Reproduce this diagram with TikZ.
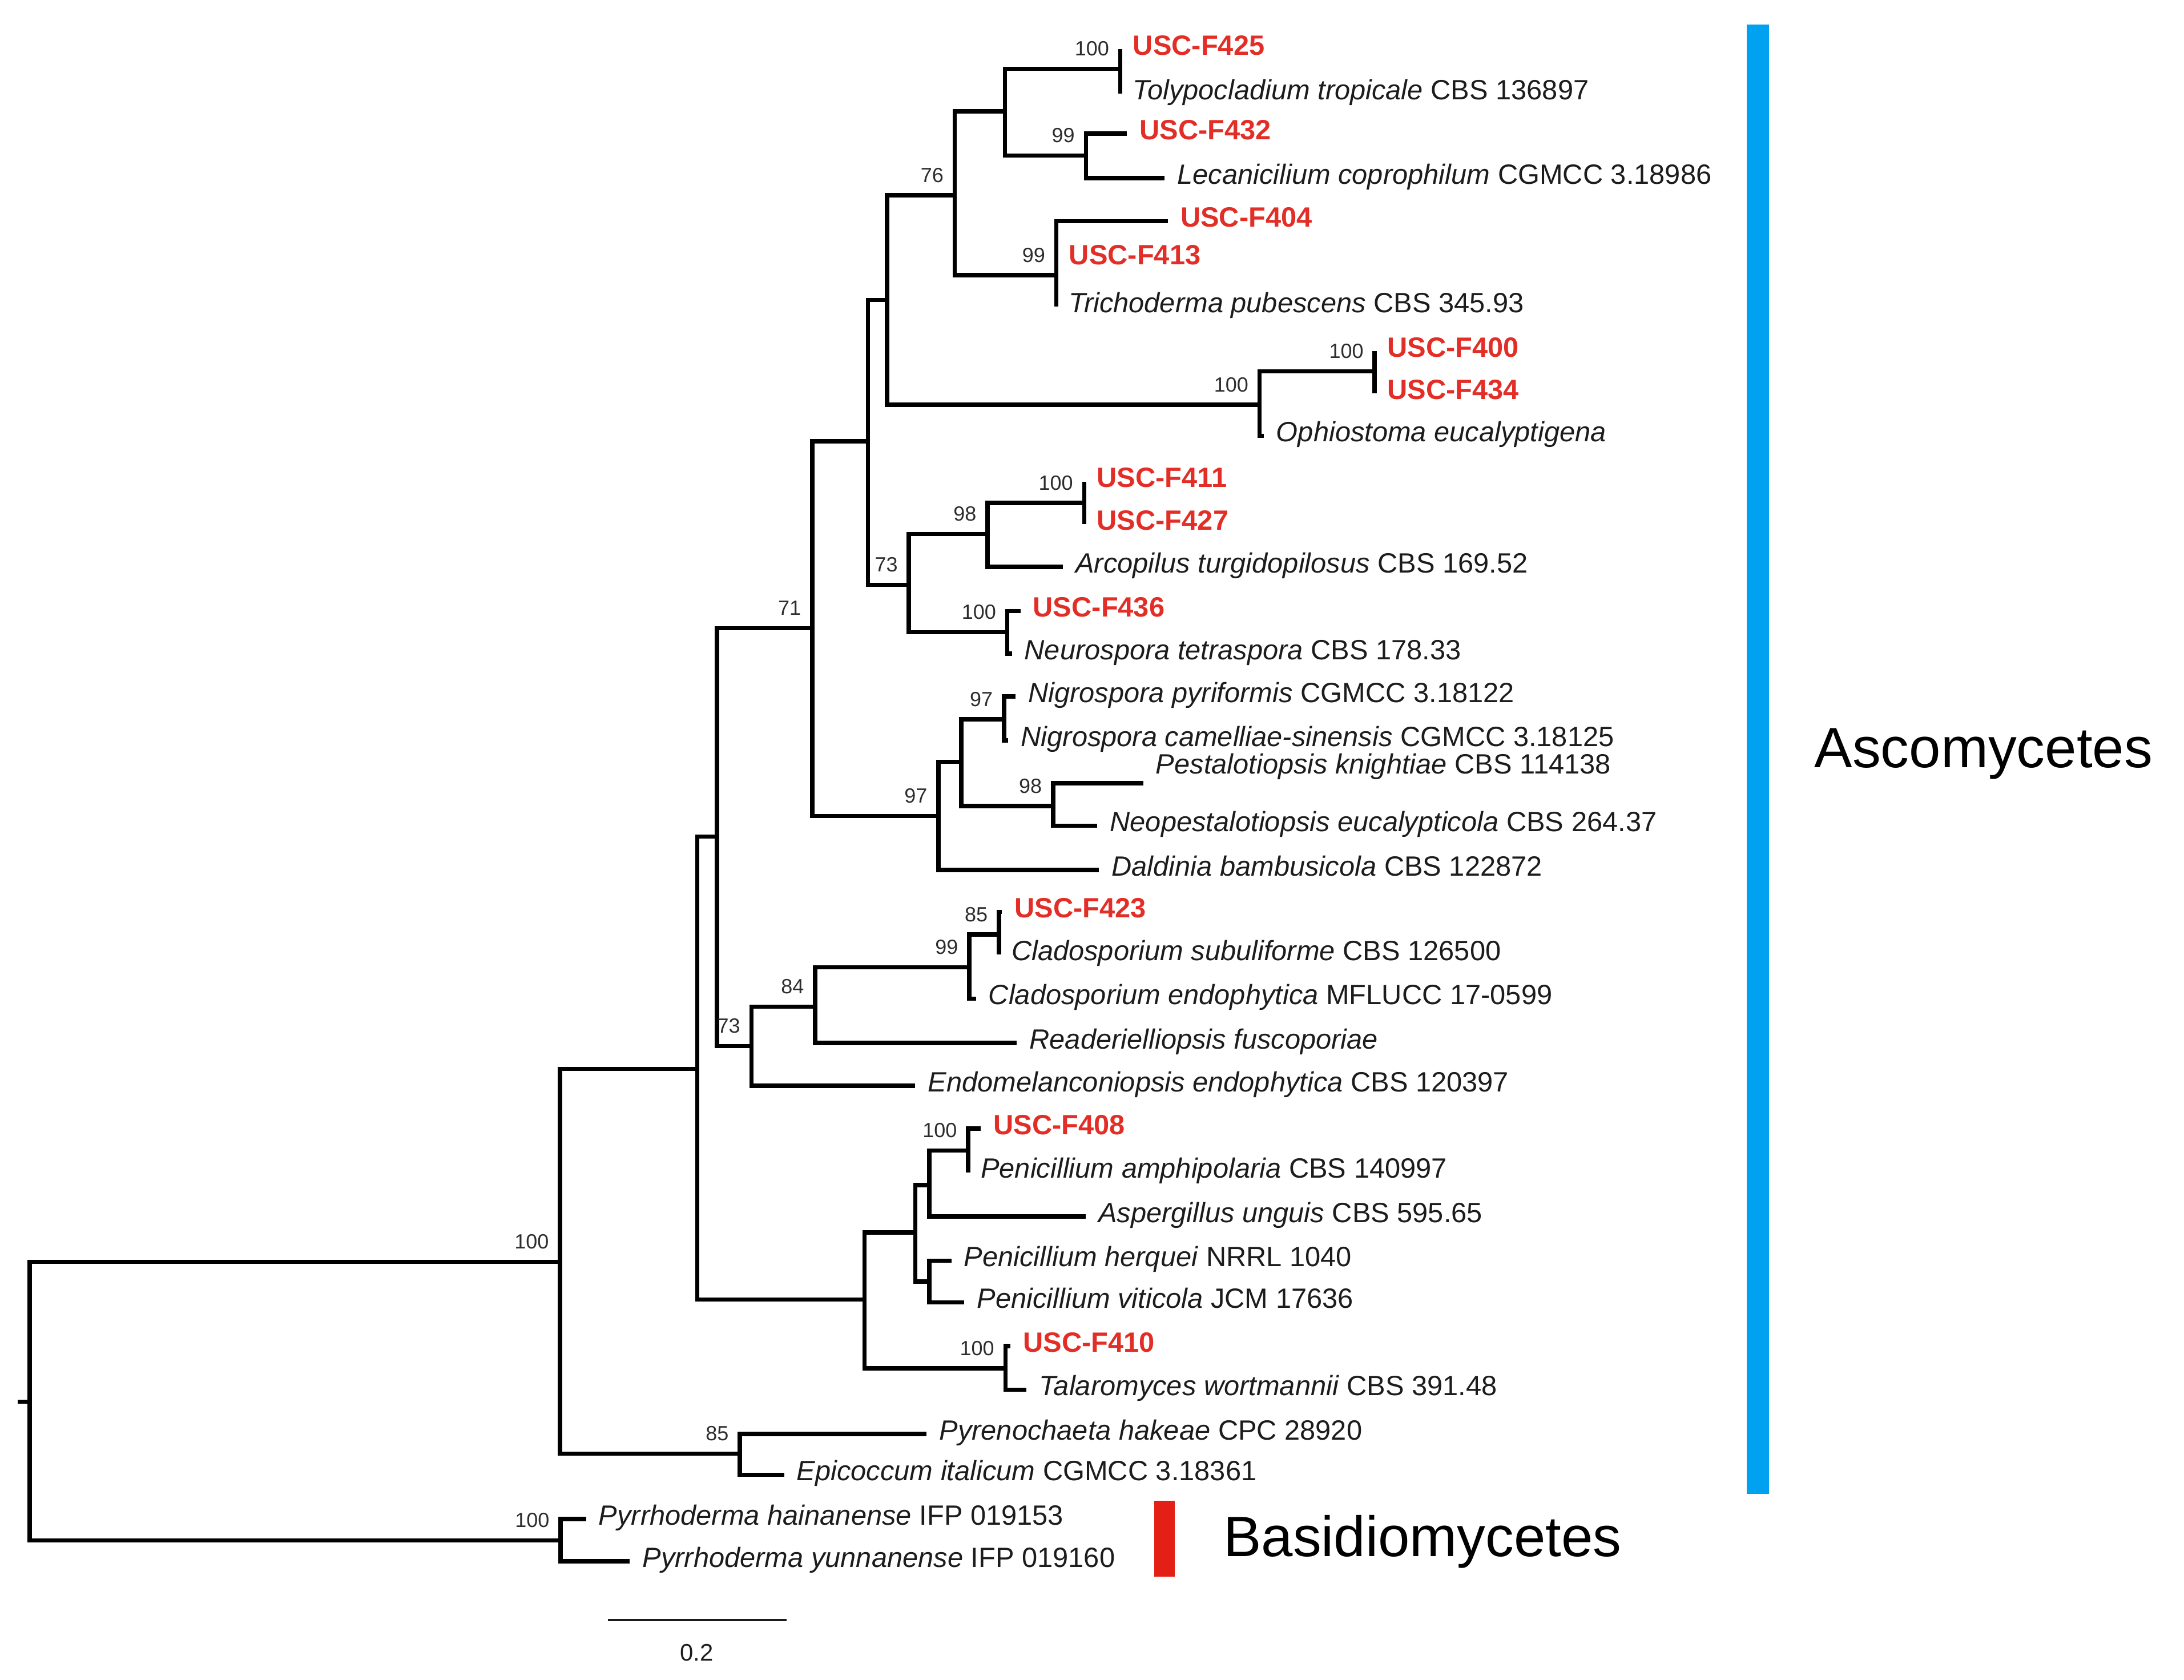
\documentclass[tikz,border=0pt]{standalone}
\usepackage{fontspec}
\setmainfont{Liberation Sans}
\definecolor{uscred}{RGB}{226,46,38}
\definecolor{taxblack}{RGB}{28,28,28}
\definecolor{bsgray}{RGB}{45,45,45}
\definecolor{ascblue}{RGB}{0,161,241}
\definecolor{basred}{RGB}{228,32,22}
\newcommand{\taxfont}{\fontsize{9.9}{12}\selectfont}
\newcommand{\bsfont}{\fontsize{7.3}{9}\selectfont}
\newcommand{\groupfont}{\fontsize{20.2}{24}\selectfont}

\begin{document}
\begin{tikzpicture}[x=0.5pt,y=-0.5pt,
  every edge/.style={draw,line width=1.55pt,to path={|- (\tikztotarget) \tikztonodes}},
  taxon/.style={anchor=base west,inner sep=0pt,xshift=4.3pt,yshift=-2.1pt,font=\taxfont,text=taxblack},
  isolate/.style={taxon,font=\taxfont\bfseries,text=uscred},
  support/.style={anchor=base east,inner sep=0pt,xshift=-3.8pt,yshift=4.6pt,font=\bsfont,text=bsgray},
  group/.style={anchor=base west,inner sep=0pt,font=\groupfont}]

  \useasboundingbox (0,0) rectangle (1552,1193.8);

  % internal nodes: x of the split, y of the branch leading to it
  \coordinate (stub) at (12.5,996);
  \coordinate (root) at (21.2,996);
  \coordinate (nAsc) at (398,896.7);
  \coordinate (nBas) at (398.4,1094.6);
  \coordinate (nB) at (495.5,759.6);
  \coordinate (nA) at (509.5,594.5);
  \coordinate (n71) at (577.2,446.4);
  \coordinate (nM) at (616.8,313.5);
  \coordinate (nL) at (630.3,213.1);
  \coordinate (n76) at (678.5,138.6);
  \coordinate (nK) at (714.2,79.2);
  \coordinate (n100a) at (796.1,48.9);
  \coordinate (n99a) at (771.7,110.6);
  \coordinate (n99b) at (750.7,195.6);
  \coordinate (n100b) at (895.1,287.6);
  \coordinate (n100c) at (976.9,263.9);
  \coordinate (n73a) at (645.9,415.6);
  \coordinate (n98a) at (701.8,379.5);
  \coordinate (n100d) at (770.5,357.4);
  \coordinate (n100e) at (715.8,449.3);
  \coordinate (n97b) at (666.9,579.8);
  \coordinate (nN) at (683.2,541.3);
  \coordinate (n97a) at (713.5,511);
  \coordinate (n98b) at (748.4,572.8);
  \coordinate (nC) at (534,743.3);
  \coordinate (n84) at (579.3,715.3);
  \coordinate (n99c) at (688.8,687.4);
  \coordinate (n85a) at (709.8,664.1);
  \coordinate (nD) at (614.3,923.5);
  \coordinate (nE) at (650.4,875.7);
  \coordinate (nF) at (660.5,842);
  \coordinate (nG) at (688,817.5);
  \coordinate (nH) at (660.5,910.7);
  \coordinate (nI) at (714.5,972.4);
  \coordinate (nJ) at (525.8,1033);

  % tips
  \coordinate (tF425) at (796.1,34.9);
  \coordinate (tToly) at (796.1,66.4);
  \coordinate (tF432) at (800.8,95);
  \coordinate (tLeca) at (827.6,126.5);
  \coordinate (tF404) at (829.9,157.2);
  \coordinate (tF413) at (750.7,184);
  \coordinate (tTrich) at (750.7,217.7);
  \coordinate (tF400) at (976.9,249.4);
  \coordinate (tF434) at (976.9,279.4);
  \coordinate (tOphio) at (898,309.7);
  \coordinate (tF411) at (770.5,342.2);
  \coordinate (tF427) at (770.5,372.5);
  \coordinate (tArco) at (755.4,402.8);
  \coordinate (tF436) at (725.1,434.2);
  \coordinate (tNeuro) at (719,464.5);
  \coordinate (tNpyr) at (721.6,494.8);
  \coordinate (tNcam) at (716.5,526.2);
  \coordinate (tPest) at (812.4,556.5);
  \coordinate (tNeop) at (779.8,586.7);
  \coordinate (tDald) at (781,618.2);
  \coordinate (tF423) at (712,648);
  \coordinate (tCsub) at (709.8,678.2);
  \coordinate (tCend) at (693.5,709.7);
  \coordinate (tRead) at (722.6,741.1);
  \coordinate (tEndo) at (650.4,771.5);
  \coordinate (tF408) at (697,802);
  \coordinate (tPamp) at (688,833);
  \coordinate (tAspe) at (771.5,864.5);
  \coordinate (tPher) at (676,895.8);
  \coordinate (tPvit) at (685.3,925.5);
  \coordinate (tF410) at (718,956.5);
  \coordinate (tTala) at (729.5,987.5);
  \coordinate (tPyre) at (658.5,1019);
  \coordinate (tEpic) at (557.2,1048);
  \coordinate (tPhai) at (416.5,1079.5);
  \coordinate (tPyun) at (447.6,1109.4);

  \draw[line width=1.55pt] (stub) -- (root);
  \path
    (root) edge (nAsc) edge (nBas)
    (nAsc) edge (nB) edge (nJ)
    (nB) edge (nA) edge (nD)
    (nA) edge (n71) edge (nC)
    (n71) edge (nM) edge (n97b)
    (nM) edge (nL) edge (n73a)
    (nL) edge (n76) edge (n100b)
    (n76) edge (nK) edge (n99b)
    (nK) edge (n100a) edge (n99a)
    (n100a) edge (tF425) edge (tToly)
    (n99a) edge (tF432) edge (tLeca)
    (n99b) edge (tF404) edge (tF413) edge (tTrich)
    (n100b) edge (n100c) edge (tOphio)
    (n100c) edge (tF400) edge (tF434)
    (n73a) edge (n98a) edge (n100e)
    (n98a) edge (n100d) edge (tArco)
    (n100d) edge (tF411) edge (tF427)
    (n100e) edge (tF436) edge (tNeuro)
    (n97b) edge (nN) edge (tDald)
    (nN) edge (n97a) edge (n98b)
    (n97a) edge (tNpyr) edge (tNcam)
    (n98b) edge (tPest) edge (tNeop)
    (nC) edge (n84) edge (tEndo)
    (n84) edge (n99c) edge (tRead)
    (n99c) edge (n85a) edge (tCend)
    (n85a) edge (tF423) edge (tCsub)
    (nD) edge (nE) edge (nI)
    (nE) edge (nF) edge (nH)
    (nF) edge (nG) edge (tAspe)
    (nG) edge (tF408) edge (tPamp)
    (nH) edge (tPher) edge (tPvit)
    (nI) edge (tF410) edge (tTala)
    (nJ) edge (tPyre) edge (tEpic)
    (nBas) edge (tPhai) edge (tPyun);

  % taxon names
  \node[isolate] (F425) at (tF425) {USC-F425};
  \node[taxon] (Toly) at (tToly) {\textit{Tolypocladium tropicale} CBS 136897};
  \node[isolate] (F432) at (tF432) {USC-F432};
  \node[taxon] (Leca) at (tLeca) {\textit{Lecanicilium coprophilum} CGMCC 3.18986};
  \node[isolate] (F404) at (tF404) {USC-F404};
  \node[isolate] (F413) at (tF413) {USC-F413};
  \node[taxon] (Trich) at (tTrich) {\textit{Trichoderma pubescens} CBS 345.93};
  \node[isolate] (F400) at (tF400) {USC-F400};
  \node[isolate] (F434) at (tF434) {USC-F434};
  \node[taxon] (Ophio) at (tOphio) {\textit{Ophiostoma eucalyptigena}};
  \node[isolate] (F411) at (tF411) {USC-F411};
  \node[isolate] (F427) at (tF427) {USC-F427};
  \node[taxon] (Arco) at (tArco) {\textit{Arcopilus turgidopilosus} CBS 169.52};
  \node[isolate] (F436) at (tF436) {USC-F436};
  \node[taxon] (Neuro) at (tNeuro) {\textit{Neurospora tetraspora} CBS 178.33};
  \node[taxon] (Npyr) at (tNpyr) {\textit{Nigrospora pyriformis} CGMCC 3.18122};
  \node[taxon] (Ncam) at (tNcam) {\textit{Nigrospora camelliae-sinensis} CGMCC 3.18125};
  \node[taxon,yshift=5.5pt] (Pest) at (tPest) {\textit{Pestalotiopsis knightiae} CBS 114138};
  \node[taxon] (Neop) at (tNeop) {\textit{Neopestalotiopsis eucalypticola} CBS 264.37};
  \node[taxon] (Dald) at (tDald) {\textit{Daldinia bambusicola} CBS 122872};
  \node[isolate] (F423) at (tF423) {USC-F423};
  \node[taxon] (Csub) at (tCsub) {\textit{Cladosporium subuliforme} CBS 126500};
  \node[taxon] (Cend) at (tCend) {\textit{Cladosporium endophytica} MFLUCC 17-0599};
  \node[taxon] (Read) at (tRead) {\textit{Readerielliopsis fuscoporiae}};
  \node[taxon] (Endo) at (tEndo) {\textit{Endomelanconiopsis endophytica} CBS 120397};
  \node[isolate] (F408) at (tF408) {USC-F408};
  \node[taxon] (Pamp) at (tPamp) {\textit{Penicillium amphipolaria} CBS 140997};
  \node[taxon] (Aspe) at (tAspe) {\textit{Aspergillus unguis} CBS 595.65};
  \node[taxon] (Pher) at (tPher) {\textit{Penicillium herquei} NRRL 1040};
  \node[taxon] (Pvit) at (tPvit) {\textit{Penicillium viticola} JCM 17636};
  \node[isolate] (F410) at (tF410) {USC-F410};
  \node[taxon] (Tala) at (tTala) {\textit{Talaromyces wortmannii} CBS 391.48};
  \node[taxon] (Pyre) at (tPyre) {\textit{Pyrenochaeta hakeae} CPC 28920};
  \node[taxon] (Epic) at (tEpic) {\textit{Epicoccum italicum} CGMCC 3.18361};
  \node[taxon] (Phai) at (tPhai) {\textit{Pyrrhoderma hainanense} IFP 019153};
  \node[taxon] (Pyun) at (tPyun) {\textit{Pyrrhoderma yunnanense} IFP 019160};

  % bootstrap values
  \node[support] (sAsc) at (nAsc) {100};
  \node[support] (sBas) at (nBas) {100};
  \node[support] (s71) at (n71) {71};
  \node[support] (s76) at (n76) {76};
  \node[support] (s100a) at (n100a) {100};
  \node[support] (s99a) at (n99a) {99};
  \node[support] (s99b) at (n99b) {99};
  \node[support] (s100b) at (n100b) {100};
  \node[support] (s100c) at (n100c) {100};
  \node[support] (s73a) at (n73a) {73};
  \node[support] (s98a) at (n98a) {98};
  \node[support] (s100d) at (n100d) {100};
  \node[support] (s100e) at (n100e) {100};
  \node[support] (s97b) at (n97b) {97};
  \node[support] (s97a) at (n97a) {97};
  \node[support] (s98b) at (n98b) {98};
  \node[support] (s73b) at (nC) {73};
  \node[support] (s84) at (n84) {84};
  \node[support] (s99c) at (n99c) {99};
  \node[support] (s85a) at (n85a) {85};
  \node[support] (s100g) at (nG) {100};
  \node[support] (s100i) at (nI) {100};
  \node[support] (s85b) at (nJ) {85};

  % clade bars
  \fill[ascblue] (1241.4,17.5) rectangle (1257,1061.6);
  \fill[basred] (820.4,1066.4) rectangle (835,1120.2);
  \node[group] (asco) at (1289,545.2) {Ascomycetes};
  \node[group] (basidio) at (869,1105.8) {Basidiomycetes};

  % scale bar
  \coordinate (barL) at (432,1151.2);
  \coordinate (barR) at (558.8,1151.2);
  \draw[line width=0.9pt,taxblack] (barL) -- (barR);
  \node[font=\fontsize{8.5}{10}\selectfont,text=taxblack,inner sep=0pt] (barlab) at (495,1174.2) {0.2};
\end{tikzpicture}
\end{document}
